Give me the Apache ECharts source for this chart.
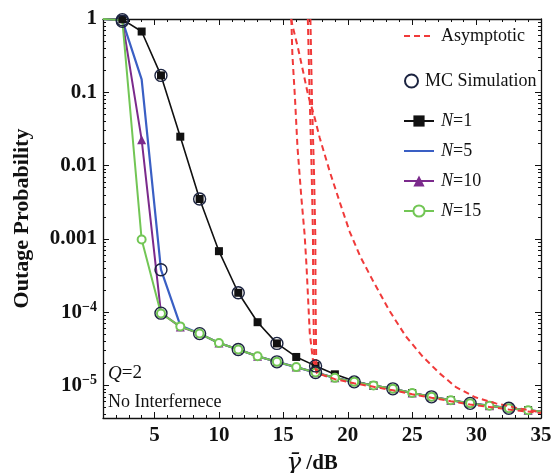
<!DOCTYPE html>
<html>
<head>
<meta charset="utf-8">
<script src="https://cdn.jsdelivr.net/npm/echarts@6/dist/echarts.min.js"></script>
<style>html,body{margin:0;padding:0;background:#fff;}#c{width:555px;height:473px;}</style>
</head>
<body>
<div id="c"></div>
<script>
// ---- data ----
var xTicks = [5, 10, 15, 20, 25, 30, 35];
var yTicks = [1e-5, 1e-4, 1e-3, 1e-2, 1e-1, 1];

var xSim = [1, 2.5, 4, 5.5, 7, 8.5, 10, 11.5, 13, 14.5, 16, 17.5, 19, 20.5, 22, 23.5, 25, 26.5, 28, 29.5, 31, 32.5, 34, 35];
var n1 = [1, 0.99, 0.675, 0.17, 0.0248, 0.0035, 6.8e-4, 1.84e-4, 7.3e-5, 3.75e-5, 2.45e-5, 1.85e-5, 1.42e-5, 1.15e-5, 1.0e-5, 9.0e-6, 7.9e-6, 7.0e-6, 6.3e-6, 5.7e-6, 5.3e-6, 4.9e-6, 4.6e-6, 4.4e-6];
var n5 = [1, 0.96, 0.15, 3.8e-4, 6.6e-5, 5.1e-5, 3.8e-5, 3.1e-5, 2.5e-5, 2.1e-5, 1.78e-5, 1.5e-5, 1.27e-5, 1.12e-5, 1.0e-5, 9.0e-6, 7.9e-6, 7.0e-6, 6.3e-6, 5.7e-6, 5.3e-6, 4.9e-6, 4.6e-6, 4.4e-6];
var n10 = [1, 0.96, 0.0226, 9.8e-5, 6.3e-5, 5.1e-5, 3.8e-5, 3.1e-5, 2.5e-5, 2.1e-5, 1.78e-5, 1.5e-5, 1.27e-5, 1.12e-5, 1.0e-5, 9.0e-6, 7.9e-6, 7.0e-6, 6.3e-6, 5.7e-6, 5.3e-6, 4.9e-6, 4.6e-6, 4.4e-6];
var n15 = [1, 0.96, 9.8e-4, 9.6e-5, 6.4e-5, 5.1e-5, 3.8e-5, 3.1e-5, 2.5e-5, 2.1e-5, 1.78e-5, 1.5e-5, 1.27e-5, 1.12e-5, 1.0e-5, 9.0e-6, 7.9e-6, 7.0e-6, 6.3e-6, 5.7e-6, 5.3e-6, 4.9e-6, 4.6e-6, 4.4e-6];

var mcX = [2.5, 2.5, 5.5, 8.5, 11.5, 14.5, 17.5, 5.5, 5.5, 8.5, 11.5, 14.5, 17.5, 20.5, 23.5, 26.5, 29.5, 32.5];
var mcY = [0.98, 0.93, 0.17, 0.0035, 1.84e-4, 3.75e-5, 1.85e-5, 3.8e-4, 9.7e-5, 5.1e-5, 3.1e-5, 2.1e-5, 1.5e-5, 1.12e-5, 9.0e-6, 7.0e-6, 5.7e-6, 4.9e-6];

var asymAX = [15.62, 15.7, 15.9, 16.1, 16.4, 16.65, 16.8, 17.05, 17.3, 17.6, 19, 20.5, 22, 23.5, 25, 26.5, 28, 29.5, 31, 32.5, 34, 35];
var asymAY = [1.0, 0.33, 0.085, 0.0175, 3.6e-3, 1.15e-3, 4.2e-4, 5.2e-5, 2.2e-5, 1.48e-5, 1.22e-5, 1.07e-5, 9.6e-6, 8.6e-6, 7.6e-6, 6.8e-6, 6.1e-6, 5.5e-6, 5.1e-6, 4.7e-6, 4.4e-6, 4.2e-6];
var asymBX = [16.9, 17.05, 17.2, 17.3, 17.32, 17.4, 17.6];
var asymBY = [1.0, 0.08, 0.008, 1.1e-3, 1.5e-4, 2.2e-5, 1.48e-5];
var asymCX = [17.1, 17.22, 17.38, 17.48, 17.5, 17.55, 17.65];
var asymCY = [1.0, 0.08, 0.008, 1.1e-3, 1.5e-4, 2.2e-5, 1.48e-5];
var asymDX = [15.6, 15.75, 16.14, 16.53, 16.91, 17.43, 17.82, 18.6, 19.37, 20.15, 21.0, 21.9, 23.2, 24.5, 25.8, 27.1, 28.4, 29.9, 31.5, 33.1, 35];
var asymDY = [1.0, 0.76, 0.40, 0.194, 0.093, 0.045, 0.024, 0.0083, 3.2e-3, 1.25e-3, 5.6e-4, 2.8e-4, 1.07e-4, 4.7e-5, 2.5e-5, 1.48e-5, 9.5e-6, 6.9e-6, 5.7e-6, 4.95e-6, 4.3e-6];

// ---- helpers ----
function pairs(xs, ys) { return xs.map(function (x, i) { return [x, ys[i]]; }); }
function withHidden(xs, ys, hide) {
  return xs.map(function (x, i) {
    var d = { value: [x, ys[i]] };
    if (hide.indexOf(i) >= 0) d.symbol = 'none';
    return d;
  });
}
var minorY = [];
for (var e = -6; e < 0; e++) for (var m = 2; m <= 9; m++) {
  var v = m * Math.pow(10, e);
  if (v > 3.6e-6 && v < 1) minorY.push(v);
}
var minorX = [];
for (var k = 2; k <= 34; k++) if (k % 5) minorX.push(k);

var serif = 'Liberation Serif';
var black = '#111';
var red = '#f03a3a', blue = '#3a5fc4', purple = '#7b2a8c', green = '#72c655';

function yLab(v) {
  var e = Math.round(Math.log10(v));
  if (e === 0) return '{n|1}';
  if (e === -1) return '{n|0.1}';
  if (e === -2) return '{n|0.01}';
  if (e === -3) return '{n|0.001}';
  return '{n|10}{s|\u2212' + (-e) + '}';
}
var yRich = {
  n: { fontFamily: serif, fontWeight: 'bold', fontSize: 21, color: black, lineHeight: 24 },
  s: { fontFamily: serif, fontWeight: 'bold', fontSize: 14, color: black, lineHeight: 24, padding: [0, 0, 10, 0] }
};

var yMin = 3.6e-6, yMax = 1;
function yAxisDef(pos, ticks, len, showLine, label) {
  return {
    type: 'log', logBase: 10, min: yMin, max: yMax, position: pos,
    axisLine: { show: showLine, onZero: false, lineStyle: { color: black, width: 1.3 } },
    axisTick: { show: true, inside: true, length: len, customValues: ticks, lineStyle: { color: black, width: 1 } },
    axisLabel: label ? { show: true, customValues: yTicks, formatter: yLab, rich: yRich, margin: 6 } : { show: false },
    splitLine: { show: false }, minorTick: { show: false }
  };
}
function xAxisDef(pos, ticks, len, showLine, label) {
  return {
    type: 'value', min: 1, max: 35, position: pos,
    axisLine: { show: showLine, onZero: false, lineStyle: { color: black, width: 1.3 } },
    axisTick: { show: true, inside: true, length: len, customValues: ticks, lineStyle: { color: black, width: 1 } },
    axisLabel: label ? { show: true, customValues: xTicks, margin: 7, fontFamily: serif, fontWeight: 'bold', fontSize: 21, color: black } : { show: false },
    splitLine: { show: false }
  };
}

var xAxes = [xAxisDef('bottom', xTicks, 6, true, true), xAxisDef('bottom', minorX, 3, false, false),
             xAxisDef('top', xTicks, 6, true, false), xAxisDef('top', minorX, 3, false, false)];
xAxes[0].name = '{g|\u03b3\u0304}{d| /dB}';
xAxes[0].nameLocation = 'middle';
xAxes[0].nameGap = 33;
xAxes[0].nameTextStyle = {
  padding: [0, 20, 0, 0],
  rich: {
    g: { fontFamily: 'DejaVu Serif', fontStyle: 'italic', fontSize: 25, color: black },
    d: { fontFamily: serif, fontWeight: 'bold', fontSize: 21, color: black }
  }
};
var yAxes = [yAxisDef('left', yTicks, 6, true, true), yAxisDef('left', minorY, 3, false, false),
             yAxisDef('right', yTicks, 6, true, false), yAxisDef('right', minorY, 3, false, false)];
yAxes[0].name = 'Outage Probability';
yAxes[0].nameLocation = 'middle';
yAxes[0].nameGap = 70;
yAxes[0].nameTextStyle = { fontFamily: serif, fontWeight: 'bold', fontSize: 22, color: black };

function lineSeries(name, data, color, symbol, size, width) {
  return {
    name: name, type: 'line', xAxisIndex: 0, yAxisIndex: 0, data: data,
    symbol: symbol, symbolSize: size, showSymbol: symbol !== 'none',
    lineStyle: { color: color, width: width }, itemStyle: { color: color },
    animation: false, z: 3
  };
}
function asym(xs, ys) {
  return {
    name: 'Asymptotic', type: 'line', xAxisIndex: 0, yAxisIndex: 0, data: pairs(xs, ys),
    symbol: 'none',
    lineStyle: { color: red, width: 2, type: [6, 4] }, itemStyle: { color: red },
    animation: false, z: 4
  };
}

var legendText = { fontFamily: serif, fontSize: 18, color: black, padding: [0, 0, 0, 2],
  rich: { i: { fontFamily: serif, fontStyle: 'italic', fontSize: 18, color: black },
          r: { fontFamily: serif, fontSize: 18, color: black } } };

var option = {
  backgroundColor: '#fff',
  animation: false,
  grid: { left: 103, top: 19, width: 438, height: 399, containLabel: false, outerBoundsMode: 'none' },
  xAxis: xAxes,
  yAxis: yAxes,
  legend: [
    { data: [{ name: 'Asymptotic', itemStyle: { opacity: 0 } }], left: 398, top: 22, itemWidth: 30, itemHeight: 14, textStyle: legendText, selectedMode: false },
    { data: ['MC Simulation'], left: 399, top: 67, itemWidth: 13, itemHeight: 13, textStyle: legendText, selectedMode: false },
    { data: ['N=1', { name: 'N=5', itemStyle: { opacity: 0 } }, 'N=10', 'N=15'], orient: 'vertical', left: 398, top: 107, itemWidth: 30, itemHeight: 14, itemGap: 12,
      textStyle: legendText, selectedMode: false,
      formatter: function (name) { return '{i|N}{r|' + name.slice(1) + '}'; } }
  ],
  graphic: [
    { type: 'text', left: 108, top: 364, style: { text: '{q|Q}{r|=2}', rich: {
        q: { fontFamily: serif, fontStyle: 'italic', fontSize: 19, fill: black },
        r: { fontFamily: serif, fontSize: 19, fill: black } } } },
    { type: 'text', left: 108, top: 393, style: { text: 'No Interfernece', font: '18px "Liberation Serif"', fill: black } }
  ],
  series: [
    lineSeries('N=1', withHidden(xSim, n1, [0, 23]), black, 'rect', 8, 1.6),
    lineSeries('N=5', pairs(xSim, n5), blue, 'none', 0, 2.2),
    lineSeries('N=10', withHidden(xSim, n10, [0, 1, 23]), purple, 'triangle', 9, 2),
    lineSeries('N=15', withHidden(xSim, n15, [0, 1, 23]), green, 'emptyCircle', 8, 2),
    asym(asymAX, asymAY),
    asym(asymBX, asymBY),
    asym(asymCX, asymCY),
    asym(asymDX, asymDY),
    {
      name: 'MC Simulation', type: 'scatter', xAxisIndex: 0, yAxisIndex: 0, data: pairs(mcX, mcY),
      symbol: 'circle', symbolSize: 12,
      itemStyle: { color: 'rgba(0,0,0,0)', borderColor: '#1b2340', borderWidth: 1.4, opacity: 1 },
      z: 5, animation: false
    }
  ]
};
var chart = echarts.init(document.getElementById('c'), null, { renderer: 'canvas' });
chart.setOption(option);
</script>
</body>
</html>
